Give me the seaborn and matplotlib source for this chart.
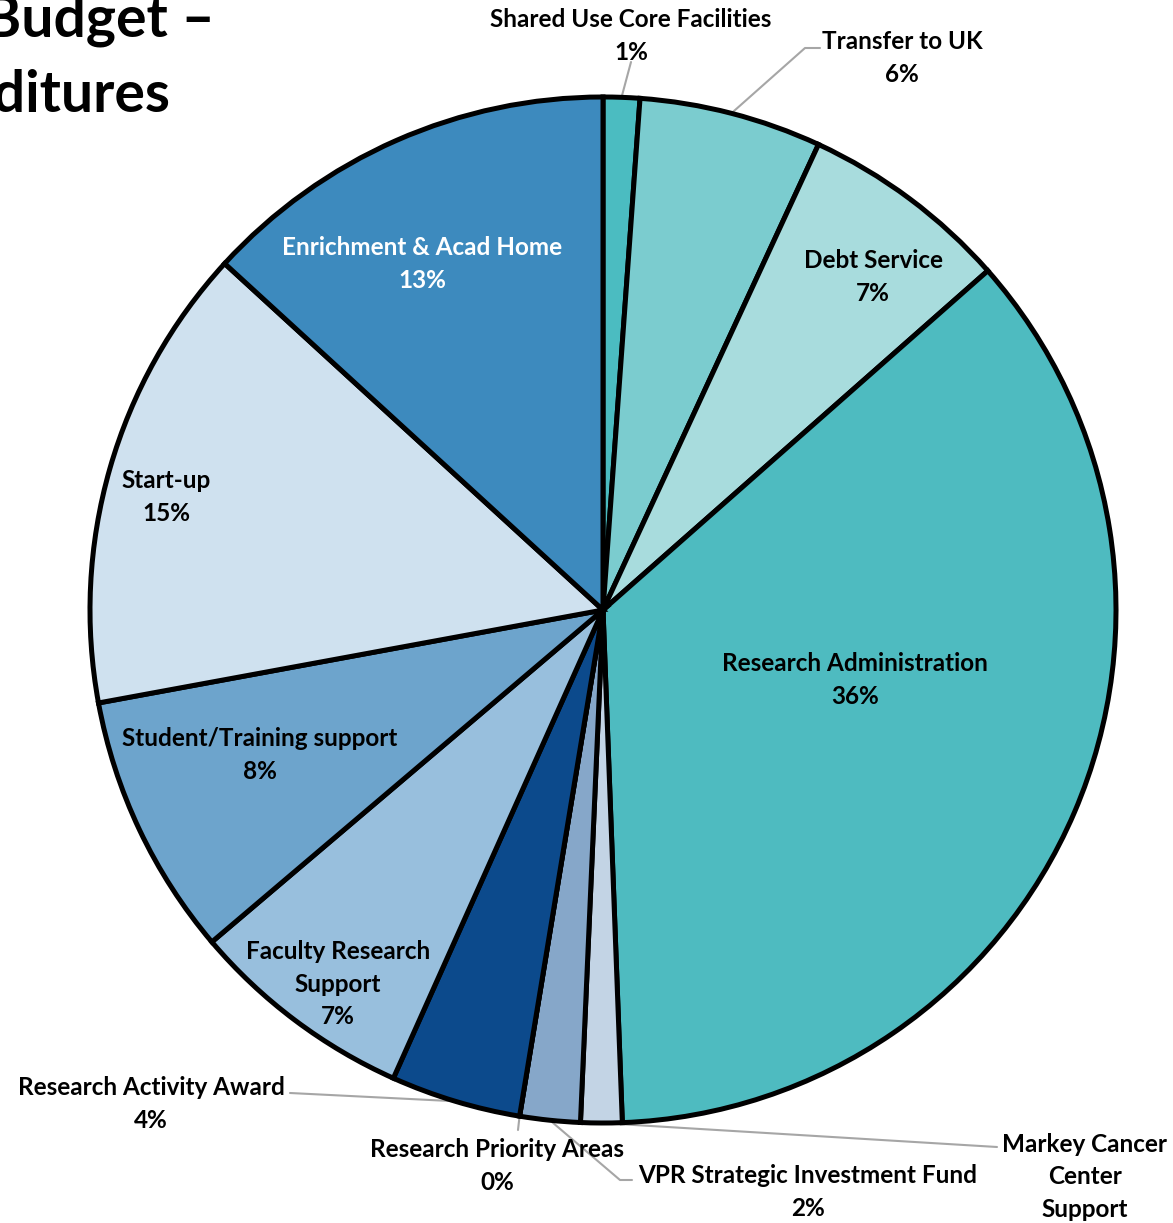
import numpy as np
import matplotlib
matplotlib.use("Agg")
import matplotlib.pyplot as plt
import seaborn as sns

# slices, clockwise from 12 o'clock
categories = [
    "Shared Use Core Facilities", "Transfer to UK", "Debt Service",
    "Research Administration", "Markey Cancer\nCenter\nSupport",
    "VPR Strategic Investment Fund", "Research Priority Areas",
    "Research Activity Award", "Faculty Research\nSupport",
    "Student/Training support", "Start-up", "Enrichment & Acad Home",
]
values = [1.15, 5.75, 6.6, 35.9, 1.3, 1.9, 0.0, 4.1, 7.1, 8.3, 14.7, 13.2]
show_pct = [True, True, True, True, False, True, True, True, True, True, True, True]
colors = [
    "#4BBCC1", "#7BCCCF", "#A8DCDD", "#4EBBC0", "#C3D4E5", "#86A7C9",
    "#86A7C9", "#0C4A8C", "#98BFDD", "#6DA4CC", "#CFE1EF", "#3D8ABE",
]
text_colors = ["black"] * 11 + ["white"]

W, H = 1173, 1223
CX, CY, R = 603, 610, 513

sns.set_theme(style="white")
plt.rcParams["font.family"] = ["Lato", "DejaVu Sans"]
plt.rcParams["font.weight"] = "bold"


def px(x, y):
    return x, H - y


fig = plt.figure(figsize=(W / 100, H / 100), dpi=100)
ax = fig.add_axes([0, 0, 1, 1])

wedges, _ = ax.pie(values, colors=colors, startangle=90, counterclock=False,
                   center=px(CX, CY), radius=R, frame=True,
                   wedgeprops=dict(edgecolor="black", linewidth=3.6))
ax.set_xlim(0, W)
ax.set_ylim(0, H)
ax.set_aspect("equal")
ax.axis("off")

labels = [f"{c}\n{round(v)}%" if s else c
          for c, v, s in zip(categories, values, show_pct)]

# label centres (pixels) and optional leader-line elbows
label_pos = {
    0: (631, 36), 1: (902, 58), 2: (873, 277), 3: (855, 680),
    4: (1085, 1177), 5: (808, 1192), 6: (497, 1166), 7: (151, 1104),
    8: (338, 984), 9: (260, 755), 10: (166, 497), 11: (422, 264),
}
leaders = {
    0: [(631, 62)],
    1: [(805, 48), (820, 48)],
    4: [(997, 1147)],
    5: [(620, 1180), (632, 1180)],
    6: [(518, 1130)],
    7: [(290, 1093)],
}

for i, lab in enumerate(labels):
    x, y = label_pos[i]
    ax.text(*px(x, y), lab, ha="center", va="center", fontsize=17.5,
            fontweight="bold", color=text_colors[i], linespacing=1.5)

for i, pts in leaders.items():
    w = wedges[i]
    mid = np.deg2rad((w.theta1 + w.theta2) / 2)
    ax0 = w.center[0] + w.r * np.cos(mid)
    ay0 = w.center[1] + w.r * np.sin(mid)
    xs = [ax0] + [px(*p)[0] for p in pts]
    ys = [ay0] + [px(*p)[1] for p in pts]
    ax.plot(xs, ys, color="#A6A6A6", linewidth=1.5, zorder=0.5)

ax.text(*px(215, 20), "Research Budget \u2013", ha="right", va="center",
        fontsize=41, fontweight="bold", color="black")
ax.text(*px(170, 96), "Expenditures", ha="right", va="center",
        fontsize=41, fontweight="bold", color="black")

fig.savefig("out.png", dpi=100)
